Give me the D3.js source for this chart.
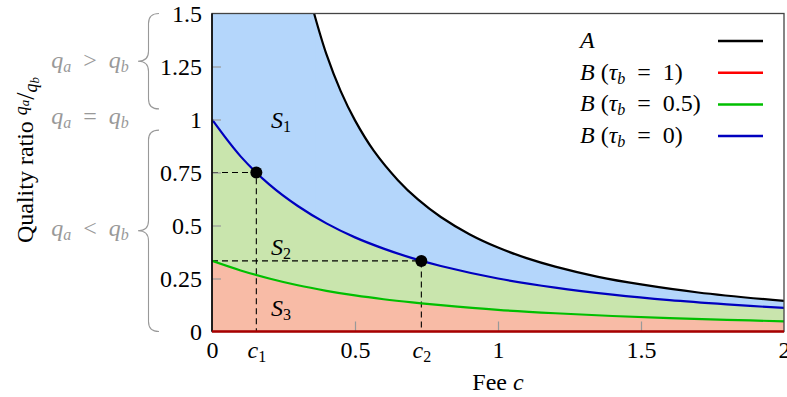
<!DOCTYPE html>
<html>
<head>
<meta charset="utf-8">
<script src="https://cdn.jsdelivr.net/npm/d3@7"></script>
<style>
  body { margin: 0; background: #fff; }
  svg text { font-family: "Liberation Serif", "DejaVu Serif", serif; }
</style>
</head>
<body>
<div id="chart"></div>
<script>
// values
const feeA   = [0.357, 0.40, 0.45, 0.50, 0.566, 0.65, 0.72, 0.80, 0.90, 1.00, 1.10, 1.20, 1.35, 1.50, 1.70, 2.00];
const ratioA = [1.50, 1.308, 1.134, 0.996, 0.852, 0.714, 0.623, 0.54, 0.459, 0.396, 0.346, 0.306, 0.258, 0.222, 0.184, 0.144];

const feeB = [0, 0.1, 0.2, 0.3, 0.4, 0.5, 0.6, 0.7, 0.8, 1.0, 1.2, 1.4, 1.6, 1.8, 2.0];
const ratioB0  = [1, 0.826, 0.694, 0.592, 0.51, 0.444, 0.391, 0.346, 0.309, 0.25, 0.207, 0.174, 0.148, 0.128, 0.111];
const ratioB05 = [0.333, 0.288, 0.25, 0.218, 0.192, 0.17, 0.152, 0.137, 0.124, 0.102, 0.086, 0.073, 0.063, 0.055, 0.048];
const feeB1 = [0, 2];
const ratioB1 = [0, 0];

const cutFees = [0.155, 0.732];     // c1, c2
const cutRatios = [0.75, 0.333];

const xTicks = [0, 0.155, 0.5, 0.732, 1, 1.5, 2];
const xTickLabels = ["0", "c1", "0.5", "c2", "1", "1.5", "2"];
const yTicks = [0, 0.25, 0.5, 0.75, 1, 1.25, 1.5];
const yTickLabels = ["0", "0.25", "0.5", "0.75", "1", "1.25", "1.5"];

const legendTau = [null, "1", "0.5", "0"];
const legendColors = ["#000000", "#ff0000", "#00bf00", "#0000bf"];

const W = 787, H = 397;
const plot = {left: 212, right: 784, top: 13.5, bottom: 331.5};
const font = 24, sub = 16;
const sp = "\u2002";

const svg = d3.select("#chart").append("svg")
  .attr("width", W).attr("height", H);

const x = d3.scaleLinear().domain([0, 2]).range([plot.left, plot.right]);
const y = d3.scaleLinear().domain([0, 1.5]).range([plot.bottom, plot.top]);

svg.append("clipPath").attr("id", "clip")
  .append("rect")
  .attr("x", plot.left).attr("y", plot.top)
  .attr("width", plot.right - plot.left).attr("height", plot.bottom - plot.top);

const zip = (xs, ys) => xs.map((c, i) => [c, ys[i]]);
const ptsA = zip(feeA, ratioA);
const ptsB0 = zip(feeB, ratioB0);
const ptsB05 = zip(feeB, ratioB05);
const ptsB1 = zip(feeB1, ratioB1);

const curve = d3.curveCatmullRom.alpha(0.5);
const area = d3.area().curve(curve)
  .x(d => x(d[0])).y0(y(0)).y1(d => y(d[1]));
const line = d3.line().curve(curve)
  .x(d => x(d[0])).y(d => y(d[1]));

const g = svg.append("g").attr("clip-path", "url(#clip)");

// S1: under A (flat top until A enters the frame)
g.append("path").datum(ptsA)
  .attr("d", area).attr("fill", "#b4d6fb");
g.append("rect")
  .attr("x", x(0)).attr("y", y(y.domain()[1]))
  .attr("width", x(feeA[0]) - x(0) + 1.5).attr("height", y(0) - y(y.domain()[1]))
  .attr("fill", "#b4d6fb");
// S2, S3
g.append("path").datum(ptsB0).attr("d", area).attr("fill", "#c9e5ad");
g.append("path").datum(ptsB05).attr("d", area).attr("fill", "#f8bba6");

// gray inner ticks
const gyt = svg.append("g").attr("transform", `translate(${plot.left},0)`)
  .call(d3.axisRight(y).tickValues([0.25, 0.5, 0.75, 1, 1.25]).tickSize(9).tickFormat(""));
gyt.select(".domain").remove();
gyt.selectAll("line").attr("stroke", "#999").attr("stroke-width", 1.2);

const gxt = svg.append("g").attr("transform", `translate(0,${plot.bottom})`)
  .call(d3.axisTop(x).tickValues([0.5, 1, 1.5]).tickSize(10).tickFormat(""));
gxt.select(".domain").remove();
gxt.selectAll("line").attr("stroke", "#999").attr("stroke-width", 1.2);

// dashed guides
cutFees.forEach((c, i) => {
  g.append("path")
    .datum([[0, cutRatios[i]], [c, cutRatios[i]], [c, 0]])
    .attr("d", d3.line().x(d => x(d[0])).y(d => y(d[1])))
    .attr("fill", "none").attr("stroke", "#000").attr("stroke-width", 1.1)
    .attr("stroke-dasharray", "6,4");
});

// curves
[[ptsA, legendColors[0]], [ptsB05, legendColors[2]], [ptsB0, legendColors[3]]].forEach(([pts, col]) => {
  g.append("path").datum(pts).attr("d", line)
    .attr("fill", "none").attr("stroke", col).attr("stroke-width", 2.2);
});

// frame
svg.append("rect")
  .attr("x", plot.left).attr("y", plot.top)
  .attr("width", plot.right - plot.left).attr("height", plot.bottom - plot.top)
  .attr("fill", "none").attr("stroke", "#444").attr("stroke-width", 1.3);
svg.append("line")
  .attr("x1", plot.left).attr("x2", plot.left).attr("y1", plot.top).attr("y2", plot.bottom)
  .attr("stroke", "#000").attr("stroke-width", 1.5);
// tau_b = 1 curve sits on the bottom axis
svg.append("path").datum(ptsB1)
  .attr("d", d3.line().x(d => x(d[0])).y(d => y(d[1])))
  .attr("fill", "none").attr("stroke", "#a80000").attr("stroke-width", 2.4);

// c1, c2 points
svg.selectAll(".pt").data(cutFees).enter().append("circle")
  .attr("cx", d => x(d)).attr("cy", (d, i) => y(cutRatios[i]))
  .attr("r", 6).attr("fill", "#000");

// axes labels
const gy = svg.append("g").attr("transform", `translate(${plot.left},0)`)
  .call(d3.axisLeft(y).tickValues(yTicks).tickSize(0).tickPadding(10)
    .tickFormat((d, i) => yTickLabels[i]));
gy.select(".domain").remove();
gy.selectAll("text").attr("font-size", font).attr("fill", "#000").attr("dy", "0.33em");

const gx = svg.append("g").attr("transform", `translate(0,${plot.bottom})`)
  .call(d3.axisBottom(x).tickValues(xTicks).tickSize(0).tickPadding(9)
    .tickFormat((d, i) => xTickLabels[i]));
gx.select(".domain").remove();
gx.selectAll("text").attr("font-size", font).attr("fill", "#000")
  .each(function(d, i) {
    const lab = xTickLabels[i];
    if (lab.startsWith("c")) {
      const t = d3.select(this).text("");
      t.append("tspan").attr("font-style", "italic").text("c");
      t.append("tspan").attr("font-size", sub).attr("dy", 4).text(lab.slice(1));
    }
  });

svg.append("text").attr("x", x(1)).attr("y", 390)
  .attr("text-anchor", "middle").attr("font-size", font)
  .call(s => {
    s.append("tspan").text("Fee ");
    s.append("tspan").attr("font-style", "italic").text("c");
  });

// y label with slanted fraction
const yl = svg.append("text")
  .attr("transform", "translate(33,160) rotate(-90)")
  .attr("text-anchor", "middle").attr("font-size", font);
yl.append("tspan").text("Quality ratio ");
yl.append("tspan").attr("font-style", "italic").attr("font-size", 18).attr("dy", -6).text("q");
yl.append("tspan").attr("font-style", "italic").attr("font-size", 13).attr("dy", 2).text("a");
yl.append("tspan").attr("font-size", 26).attr("dy", 5).text("/");
yl.append("tspan").attr("font-style", "italic").attr("font-size", 18).attr("dy", 3).text("q");
yl.append("tspan").attr("font-style", "italic").attr("font-size", 13).attr("dy", 2).text("b");

// gray quality annotations with braces
const notes = [
  {sym: ">", yb: 68},
  {sym: "=", yb: 124},
  {sym: "<", yb: 236}
];
notes.forEach(n => {
  const t = svg.append("text").attr("x", 90).attr("y", n.yb)
    .attr("text-anchor", "middle").attr("font-size", font).attr("fill", "#999");
  t.append("tspan").attr("font-style", "italic").text("q");
  t.append("tspan").attr("font-style", "italic").attr("font-size", sub).attr("dy", 4).text("a");
  t.append("tspan").attr("dy", -4).text(sp + n.sym + sp);
  t.append("tspan").attr("font-style", "italic").text("q");
  t.append("tspan").attr("font-style", "italic").attr("font-size", sub).attr("dy", 4).text("b");
});

function brace(x0, y1, y2, w) {
  const r = 10, ym = (y1 + y2) / 2, xm = x0 - w / 2;
  return `M${x0},${y1} Q${xm},${y1} ${xm},${y1 + r} L${xm},${ym - r} Q${xm},${ym} ${x0 - w},${ym}`
    + ` Q${xm},${ym} ${xm},${ym + r} L${xm},${y2 - r} Q${xm},${y2} ${x0},${y2}`;
}
svg.append("path").attr("d", brace(159, y(1.5), y(1.05), 21))
  .attr("fill", "none").attr("stroke", "#999").attr("stroke-width", 1.1);
svg.append("path").attr("d", brace(159, y(0.95), y(0), 21))
  .attr("fill", "none").attr("stroke", "#999").attr("stroke-width", 1.1);

// region labels
const regions = [["S", "1", 0.96], ["S", "2", 0.36], ["S", "3", 0.073]];
regions.forEach(r => {
  const t = svg.append("text").attr("x", 271).attr("y", y(r[2])).attr("font-size", font);
  t.append("tspan").attr("font-style", "italic").text(r[0]);
  t.append("tspan").attr("font-size", sub).attr("dy", 4).text(r[1]);
});

// legend
const leg = svg.append("g");
legendColors.forEach((col, i) => {
  const yb = 48 + i * 31.7;
  const t = leg.append("text").attr("x", 580).attr("y", yb).attr("font-size", font);
  if (legendTau[i] === null) {
    t.append("tspan").attr("font-style", "italic").text("A");
  } else {
    t.append("tspan").attr("font-style", "italic").text("B");
    t.append("tspan").text(" (");
    t.append("tspan").attr("font-style", "italic").text("τ");
    t.append("tspan").attr("font-style", "italic").attr("font-size", sub).attr("dy", 4).text("b");
    t.append("tspan").attr("dy", -4).text(sp + "=" + sp + legendTau[i] + ")");
  }
  leg.append("line").attr("x1", 718).attr("x2", 763).attr("y1", yb - 7).attr("y2", yb - 7)
    .attr("stroke", col).attr("stroke-width", 2.5);
});
</script>
</body>
</html>
